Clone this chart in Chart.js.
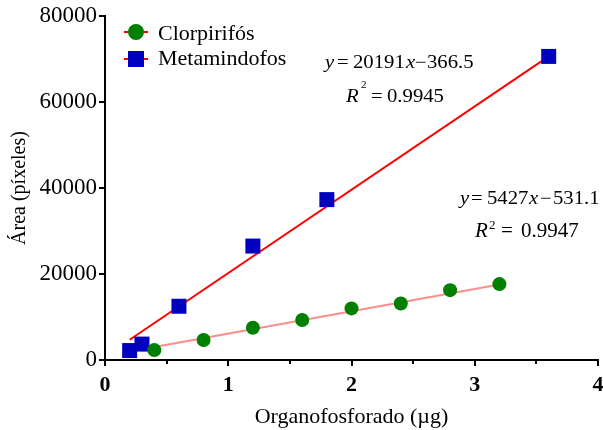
<!DOCTYPE html>
<html>
<head>
<meta charset="utf-8">
<script src="https://cdn.jsdelivr.net/npm/chart.js@4.4.1/dist/chart.umd.min.js"></script>
<style>
  body { margin: 0; background: #fff; }
  canvas { display: block; }
</style>
</head>
<body>
<canvas id="chart" width="603" height="430"></canvas>
<script>
// Clorpirifós calibration points
const clorX = [0.4, 0.8, 1.2, 1.6, 2.0, 2.4, 2.8, 3.2];
const clorY = [2300, 4650, 7500, 9300, 12000, 13150, 16250, 17650];

// Metamindofos calibration points
const metaX = [0.2, 0.3, 0.6, 1.2, 1.8, 3.6];
const metaY = [2200, 3700, 12500, 26500, 37300, 70600];

// fitted lines (end points)
const clorFitX = [0.4, 3.2];
const clorFitY = [3000, 17560];
const metaFitX = [0.2, 3.6];
const metaFitY = [4700, 70600];

const xTicks = [0, 1, 2, 3, 4];
const xMinorTicks = [0.5, 1.5, 2.5, 3.5];
const yTicks = [0, 20000, 40000, 60000, 80000];

const legendNames = ["Clorpirifós", "Metamindofos"];

const serif = "'Liberation Serif', 'Times New Roman', serif";
const green = "#008000";
const blue = "#0000bf";
const red = "#ff0000";

function toPoints(xs, ys) {
    return xs.map((x, i) => ({ x: x, y: ys[i] }));
}

// legend drawn by hand so the red line can run through the marker
const legendPlugin = {
    id: "handLegend",
    afterDraw(chart) {
        const ctx = chart.ctx;
        const rows = [
            { y: 32, base: 40, style: "circle", color: green },
            { y: 59, base: 65, style: "rect", color: blue }
        ];
        ctx.save();
        rows.forEach((row, i) => {
            ctx.strokeStyle = red;
            ctx.lineWidth = 2;
            ctx.beginPath();
            ctx.moveTo(124, row.y);
            ctx.lineTo(148, row.y);
            ctx.stroke();
            ctx.fillStyle = row.color;
            if (row.style === "circle") {
                ctx.beginPath();
                ctx.arc(136, row.y, 8, 0, Math.PI * 2);
                ctx.fill();
            } else {
                ctx.fillRect(128, row.y - 8, 16, 16);
            }
            ctx.fillStyle = "#000";
            ctx.font = "22px " + serif;
            ctx.textBaseline = "alphabetic";
            ctx.textAlign = "left";
            ctx.fillText(legendNames[i], 158, row.base);
        });
        ctx.restore();
    }
};

// equations and R² text
const eqTokens = [
    // y = 20191x - 366.5
    { t: "y", x: 325, y: 68, f: "italic 18px", sx: 1.15 },
    { t: "=", x: 337, y: 68, f: "18px", sx: 1.15 },
    { t: "20191", x: 353, y: 68, f: "18px", sx: 1.15 },
    { t: "x", x: 406, y: 68, f: "italic 18px", sx: 1.15 },
    { t: "\u2212", x: 415, y: 68, f: "18px", sx: 1.15 },
    { t: "366.5", x: 427, y: 68, f: "18px", sx: 1.15 },
    { t: "R", x: 346, y: 102, f: "italic 18px", sx: 1.15 },
    { t: "2", x: 361, y: 88, f: "11px", sx: 1 },
    { t: "=", x: 371, y: 102, f: "18px", sx: 1.15 },
    { t: "0.9945", x: 387, y: 102, f: "18px", sx: 1.15 },
    // y = 5427x - 531.1
    { t: "y", x: 460, y: 204, f: "italic 18px", sx: 1.15 },
    { t: "=", x: 471, y: 204, f: "18px", sx: 1.15 },
    { t: "5427", x: 487, y: 204, f: "18px", sx: 1.15 },
    { t: "x", x: 529, y: 204, f: "italic 18px", sx: 1.15 },
    { t: "\u2212", x: 540, y: 204, f: "18px", sx: 1.15 },
    { t: "531.1", x: 553, y: 204, f: "18px", sx: 1.15 },
    { t: "R", x: 475, y: 237, f: "italic 21px", sx: 1 },
    { t: "2", x: 489, y: 229, f: "13px", sx: 1 },
    { t: "=", x: 501, y: 237, f: "21px", sx: 1 },
    { t: "0.9947", x: 521, y: 237, f: "21px", sx: 1 }
];

const textPlugin = {
    id: "equations",
    afterDraw(chart) {
        const ctx = chart.ctx;
        ctx.save();
        ctx.fillStyle = "#000";
        ctx.textAlign = "left";
        ctx.textBaseline = "alphabetic";
        eqTokens.forEach(tok => {
            ctx.save();
            ctx.font = tok.f + " " + serif;
            ctx.translate(tok.x, tok.y);
            ctx.scale(tok.sx, 1);
            ctx.fillText(tok.t, 0, 0);
            ctx.restore();
        });
        ctx.restore();
    }
};

// short minor ticks on the x axis
const minorTickPlugin = {
    id: "minorTicks",
    afterDraw(chart) {
        const ctx = chart.ctx;
        const xs = chart.scales.x;
        const bottom = chart.chartArea.bottom;
        ctx.save();
        ctx.strokeStyle = "#000";
        ctx.lineWidth = 2;
        xMinorTicks.forEach(v => {
            const px = Math.round(xs.getPixelForValue(v));
            ctx.beginPath();
            ctx.moveTo(px, bottom);
            ctx.lineTo(px, bottom + 4);
            ctx.stroke();
        });
        ctx.restore();
    }
};

new Chart(document.getElementById("chart"), {
    type: "scatter",
    data: {
        datasets: [
            {
                label: legendNames[0],
                data: toPoints(clorX, clorY),
                backgroundColor: green,
                borderColor: green,
                pointStyle: "circle",
                pointRadius: 7,
                pointBorderWidth: 0,
                order: 1
            },
            {
                label: legendNames[1],
                data: toPoints(metaX, metaY),
                backgroundColor: blue,
                borderColor: blue,
                pointStyle: "rect",
                pointRadius: 10.6,
                pointBorderWidth: 0,
                order: 1
            },
            {
                label: "fit Clorpirifós",
                data: toPoints(clorFitX, clorFitY),
                showLine: true,
                borderColor: "rgba(255, 0, 0, 0.45)",
                borderWidth: 2,
                pointRadius: 0,
                order: 2
            },
            {
                label: "fit Metamindofos",
                data: toPoints(metaFitX, metaFitY),
                showLine: true,
                borderColor: red,
                borderWidth: 2,
                pointRadius: 0,
                order: 2
            }
        ]
    },
    options: {
        responsive: false,
        animation: false,
        devicePixelRatio: 1,
        layout: { autoPadding: false, padding: { top: 16, right: 5, left: 0, bottom: 0 } },
        plugins: {
            legend: { display: false },
            tooltip: { enabled: false }
        },
        scales: {
            x: {
                type: "linear",
                min: 0,
                max: 4,
                afterBuildTicks: scale => { scale.ticks = xTicks.map(v => ({ value: v })); },
                afterFit: scale => { scale.height = 70; scale.paddingRight = 0; scale.paddingLeft = 0; },
                grid: { drawOnChartArea: false, drawTicks: true, tickLength: 6, color: "#000", lineWidth: 2 },
                border: { color: "#000", width: 2 },
                ticks: {
                    color: "#000",
                    padding: 6,
                    callback: v => String(v),
                    font: { family: serif, size: 22, weight: "bold" }
                },
                title: {
                    display: true,
                    text: "Organofosforado (µg)",
                    color: "#000",
                    font: { family: serif, size: 22 },
                    padding: { top: 0, bottom: 0 }
                }
            },
            y: {
                min: 0,
                max: 80000,
                afterBuildTicks: scale => { scale.ticks = yTicks.map(v => ({ value: v })); },
                afterFit: scale => { scale.width = 105; },
                grid: { drawOnChartArea: false, drawTicks: true, tickLength: 6, color: "#000", lineWidth: 2 },
                border: { color: "#000", width: 2 },
                ticks: {
                    color: "#000",
                    padding: 2,
                    callback: v => String(v),
                    font: { family: serif, size: 23 }
                },
                title: {
                    display: true,
                    text: "Área (píxeles)",
                    color: "#000",
                    font: { family: serif, size: 20 },
                    padding: { top: 8, bottom: 0 }
                }
            }
        }
    },
    plugins: [legendPlugin, textPlugin, minorTickPlugin]
});
</script>
</body>
</html>
